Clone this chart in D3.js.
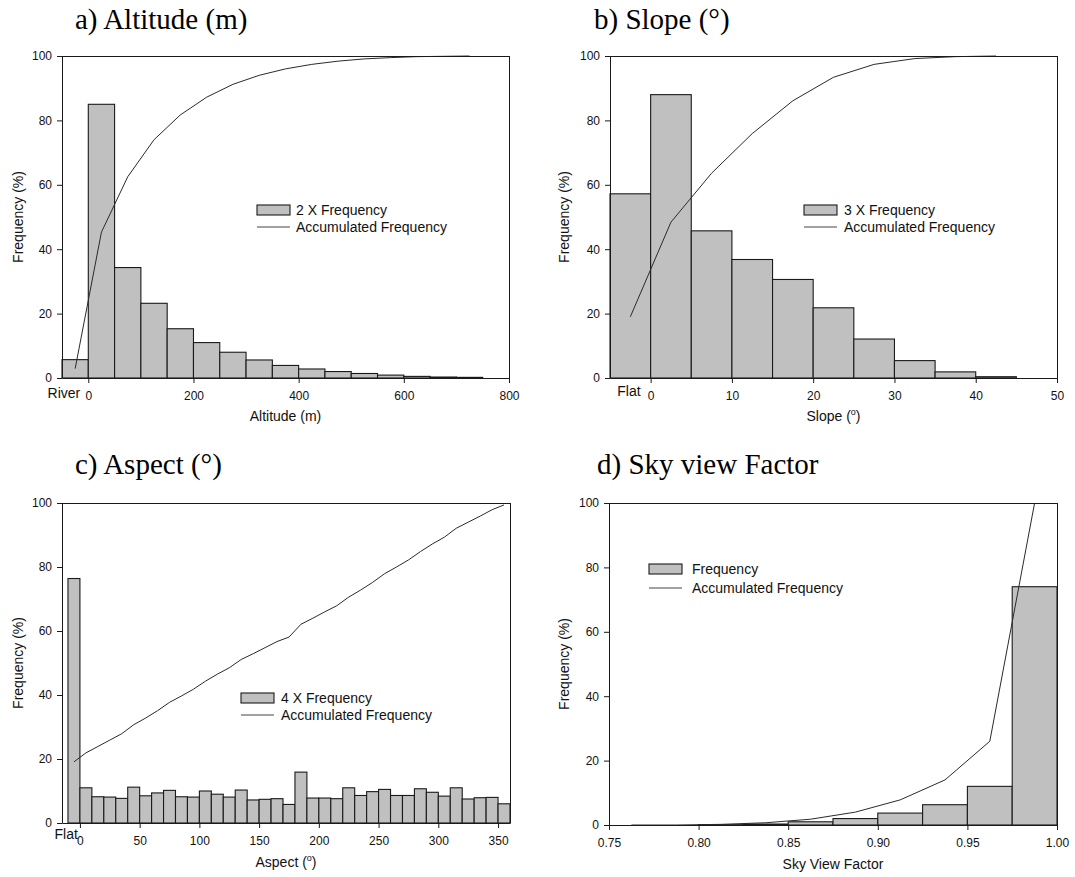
<!DOCTYPE html>
<html>
<head>
<meta charset="utf-8">
<script src="https://cdn.jsdelivr.net/npm/d3@7"></script>
<style>
  html, body { margin: 0; padding: 0; background: #fff; }
  svg { display: block; }
</style>
</head>
<body>
<script>
// ---------------- DATA ----------------
// a) Altitude
const altBinStart = [-50, 0, 50, 100, 150, 200, 250, 300, 350, 400, 450, 500, 550, 600, 650, 700];
const altBinWidth = 50;
const altFreq2x   = [5.7, 85, 34.3, 23.2, 15.3, 11, 8, 5.6, 3.9, 2.8, 2, 1.4, 0.9, 0.5, 0.3, 0.2];
const altCumX     = [-25, 25, 75, 125, 175, 225, 275, 325, 375, 425, 475, 525, 575, 625, 675, 725];
const altCum      = [2.9, 45.3, 62.5, 74, 81.7, 87.2, 91.2, 94, 96, 97.4, 98.4, 99.1, 99.5, 99.8, 99.9, 100];
const altTicks    = [0, 200, 400, 600, 800];

// b) Slope
const slopeBinStart = [-5, 0, 5, 10, 15, 20, 25, 30, 35, 40];
const slopeBinWidth = 5;
const slopeFreq3x   = [57.2, 88, 45.7, 36.8, 30.6, 21.8, 12.1, 5.4, 1.9, 0.4];
const slopeCumX     = [-2.5, 2.5, 7.5, 12.5, 17.5, 22.5, 27.5, 32.5, 37.5, 42.5];
const slopeCum      = [19, 48.4, 63.6, 75.9, 86.1, 93.4, 97.4, 99.2, 99.8, 100];
const slopeTicks    = [0, 10, 20, 30, 40, 50];

// c) Aspect
const aspBinStart = [-10, 0, 10, 20, 30, 40, 50, 60, 70, 80, 90, 100, 110, 120, 130, 140, 150, 160, 170,
                     180, 190, 200, 210, 220, 230, 240, 250, 260, 270, 280, 290, 300, 310, 320, 330, 340, 350];
const aspBinWidth = 10;
const aspFreq4x   = [76.4, 11, 8.2, 8.1, 7.7, 11.2, 8.5, 9.4, 10.2, 8.2, 8.1, 10, 9, 8.1, 10.3, 7.2, 7.4, 7.6, 5.8,
                     15.9, 7.8, 7.8, 7.6, 11, 8.6, 9.8, 10.5, 8.6, 8.6, 10.7, 9.6, 8.4, 11, 7.5, 7.9, 8, 6];
const aspCumX     = [-5, 5, 15, 25, 35, 45, 55, 65, 75, 85, 95, 105, 115, 125, 135, 145, 155, 165, 175,
                     185, 195, 205, 215, 225, 235, 245, 255, 265, 275, 285, 295, 305, 315, 325, 335, 345, 355];
const aspCum      = [19.1, 21.9, 23.9, 25.9, 27.9, 30.7, 32.8, 35.1, 37.7, 39.7, 41.8, 44.3, 46.5, 48.5, 51.1, 52.9, 54.8, 56.7, 58.1,
                     62.1, 64.0, 66.0, 67.9, 70.6, 72.8, 75.2, 77.9, 80.0, 82.2, 84.8, 87.2, 89.3, 92.1, 94.0, 95.9, 97.9, 99.4];
const aspTicks    = [0, 50, 100, 150, 200, 250, 300, 350];

// d) Sky view factor
const svfBinStart = [0.75, 0.775, 0.8, 0.825, 0.85, 0.875, 0.9, 0.925, 0.95, 0.975];
const svfBinWidth = 0.025;
const svfFreq     = [0, 0, 0.1, 0.3, 1.0, 2.0, 3.7, 6.3, 12, 74];
const svfCumX     = [0.7625, 0.7875, 0.8125, 0.8375, 0.8625, 0.8875, 0.9125, 0.9375, 0.9625, 0.9875];
const svfCum      = [0, 0, 0.2, 0.7, 1.8, 4, 7.8, 14, 26, 100];
const svfTicks    = [0.75, 0.80, 0.85, 0.90, 0.95, 1.00];

const yTicks = [0, 20, 40, 60, 80, 100];

// ---------------- DRAW ----------------
const svg = d3.select("body").append("svg").attr("width", 1075).attr("height", 877);
const SANS = "'Liberation Sans', Arial, sans-serif";
const SERIF = "'Liberation Serif', 'Times New Roman', serif";

function panel(p) {
  const x = d3.scaleLinear().domain(p.xDomain).range([p.left, p.right]);
  const y = d3.scaleLinear().domain([0, 100]).range([p.bottom, p.top]);
  const g = svg.append("g");

  // title
  g.append("text").attr("x", p.titleX).attr("y", p.titleY)
    .attr("font-family", SERIF).attr("font-size", 29).attr("fill", "#000")
    .text(p.title);

  // bars
  const bars = p.starts.map((s, i) => ({ s, v: p.freq[i] })).filter(d => d.v > 0);
  g.selectAll("rect.bar").data(bars).join("rect")
    .attr("class", "bar")
    .attr("x", d => x(d.s))
    .attr("width", d => x(d.s + p.binWidth) - x(d.s))
    .attr("y", d => y(d.v))
    .attr("height", d => y(0) - y(d.v))
    .attr("fill", "#c0c0c0")
    .attr("stroke", "#1a1a1a")
    .attr("stroke-width", 1.1);

  // cumulative line
  const line = d3.line().x(d => x(d[0])).y(d => y(d[1]));
  g.append("path")
    .datum(p.cumX.map((c, i) => [c, p.cum[i]]))
    .attr("d", line)
    .attr("fill", "none")
    .attr("stroke", "#2a2a2a")
    .attr("stroke-width", 1);

  // frame (top & right)
  g.append("line").attr("x1", p.left).attr("x2", p.right).attr("y1", p.top + 0.5).attr("y2", p.top + 0.5)
    .attr("stroke", "#1a1a1a").attr("stroke-width", 1);
  g.append("line").attr("x1", p.right + 0.5).attr("x2", p.right + 0.5).attr("y1", p.top).attr("y2", p.bottom)
    .attr("stroke", "#1a1a1a").attr("stroke-width", 1);

  // axes
  const xAxis = d3.axisBottom(x).tickValues(p.xTicks).tickSize(5).tickSizeOuter(0).tickPadding(8)
    .tickFormat(p.xFormat || d3.format("d"));
  const gx = g.append("g").attr("transform", `translate(0,${p.bottom})`).call(xAxis);
  const yAxis = d3.axisLeft(y).tickValues(yTicks).tickSize(5).tickSizeOuter(0).tickPadding(5);
  const gy = g.append("g").attr("transform", `translate(${p.left},0)`).call(yAxis);
  [gx, gy].forEach(a => {
    a.selectAll("text").attr("font-family", SANS).attr("font-size", 12).attr("fill", "#111");
    a.selectAll("line,path").attr("stroke", "#1a1a1a");
  });

  // axis titles
  const xl = g.append("text").attr("x", (p.left + p.right) / 2).attr("y", p.xLabelY)
    .attr("text-anchor", "middle").attr("font-family", SANS).attr("font-size", 14).attr("fill", "#111");
  if (p.xLabelSup) {
    xl.append("tspan").text(p.xLabel + " (");
    xl.append("tspan").attr("font-size", 9).attr("dy", -6).text("o");
    xl.append("tspan").attr("dy", 6).text(")");
  } else {
    xl.text(p.xLabel);
  }
  g.append("text")
    .attr("transform", `translate(${p.yLabelX},${(p.top + p.bottom) / 2}) rotate(-90)`)
    .attr("text-anchor", "middle").attr("font-family", SANS).attr("font-size", 14).attr("fill", "#111")
    .text("Frequency (%)");

  // extra category label (River / Flat)
  if (p.extraLabel) {
    g.append("text").attr("x", x(0) + p.extraDx).attr("y", p.extraY)
      .attr("text-anchor", "end").attr("font-family", SANS).attr("font-size", 14).attr("fill", "#111")
      .text(p.extraLabel);
  }

  // legend
  const L = p.legend;
  g.append("rect").attr("x", L.x).attr("y", L.y).attr("width", 33).attr("height", 10)
    .attr("fill", "#c0c0c0").attr("stroke", "#1a1a1a").attr("stroke-width", 1.1);
  g.append("text").attr("x", L.tx).attr("y", L.y + 10).attr("font-family", SANS).attr("font-size", 14)
    .attr("fill", "#111").text(p.freqLabel);
  g.append("line").attr("x1", L.x).attr("x2", L.x + 33).attr("y1", L.ly).attr("y2", L.ly)
    .attr("stroke", "#444").attr("stroke-width", 1);
  g.append("text").attr("x", L.tx).attr("y", L.ly + 5).attr("font-family", SANS).attr("font-size", 14)
    .attr("fill", "#111").text("Accumulated Frequency");
}

panel({
  title: "a) Altitude (m)", titleX: 75, titleY: 29,
  left: 62, right: 509, top: 56, bottom: 378, xDomain: [-50, 800],
  starts: altBinStart, binWidth: altBinWidth, freq: altFreq2x, cumX: altCumX, cum: altCum,
  xTicks: altTicks, xLabel: "Altitude (m)", xLabelY: 421, yLabelX: 23,
  extraLabel: "River", extraDx: -8, extraY: 398,
  freqLabel: "2 X Frequency",
  legend: { x: 257, y: 205, tx: 296, ly: 227 }
});

panel({
  title: "b) Slope (°)", titleX: 594, titleY: 29,
  left: 610, right: 1057, top: 56, bottom: 378, xDomain: [-5, 50],
  starts: slopeBinStart, binWidth: slopeBinWidth, freq: slopeFreq3x, cumX: slopeCumX, cum: slopeCum,
  xTicks: slopeTicks, xLabel: "Slope", xLabelSup: true, xLabelY: 421, yLabelX: 569,
  extraLabel: "Flat", extraDx: -10, extraY: 396,
  freqLabel: "3 X Frequency",
  legend: { x: 804, y: 205, tx: 844, ly: 227 }
});

panel({
  title: "c) Aspect (°)", titleX: 75, titleY: 474,
  left: 62, right: 510, top: 503, bottom: 823, xDomain: [-15, 360],
  starts: aspBinStart, binWidth: aspBinWidth, freq: aspFreq4x, cumX: aspCumX, cum: aspCum,
  xTicks: aspTicks, xLabel: "Aspect", xLabelSup: true, xLabelY: 867, yLabelX: 23,
  extraLabel: "Flat", extraDx: -2, extraY: 839,
  freqLabel: "4 X Frequency",
  legend: { x: 241, y: 693, tx: 281, ly: 715 }
});

panel({
  title: "d) Sky view Factor", titleX: 597, titleY: 474,
  left: 609, right: 1057, top: 503, bottom: 825, xDomain: [0.75, 1.0],
  starts: svfBinStart, binWidth: svfBinWidth, freq: svfFreq, cumX: svfCumX, cum: svfCum,
  xTicks: svfTicks, xFormat: d3.format(".2f"), xLabel: "Sky View Factor", xLabelY: 869, yLabelX: 569,
  freqLabel: "Frequency",
  legend: { x: 649, y: 564, tx: 692, ly: 588 }
});
</script>
</body>
</html>
